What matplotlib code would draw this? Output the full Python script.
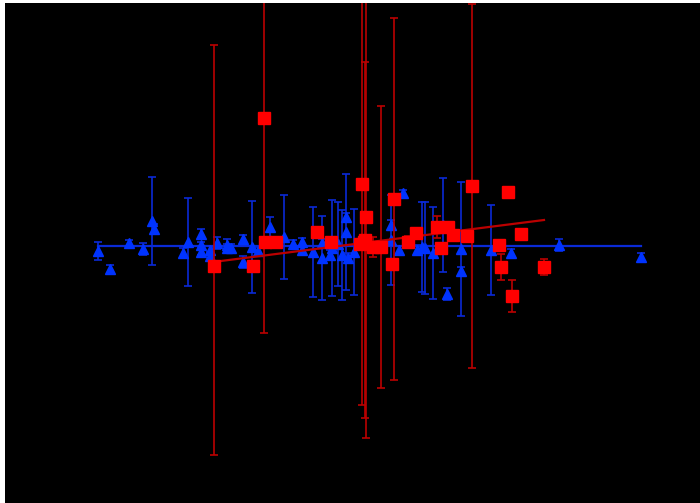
import matplotlib
matplotlib.use("Agg")
import matplotlib.pyplot as plt
import numpy as np

# Blue series (triangles)
blue_x = [1.86, 2.10, 2.48, 2.76, 2.94, 2.98, 3.56, 3.66, 3.92, 3.92, 3.92, 4.10, 4.10,
          4.24, 4.44, 4.44, 4.52, 4.76, 4.76, 4.94, 5.06, 5.30, 5.58, 5.76, 5.94, 5.94,
          6.16, 6.34, 6.34, 6.50, 6.54, 6.66, 6.74, 6.82, 6.82, 6.86, 6.98, 7.72, 7.72, 7.88,
          7.96, 8.24, 8.34, 8.40, 8.56, 8.76, 8.84, 9.12, 9.12, 9.72, 10.12, 11.08, 12.72]
blue_y = [0.04, -0.32, 0.20, 0.08, 0.64, 0.48, 0.00, 0.22, 0.38, 0.16, 0.02, 0.06, -0.06,
          0.20, 0.16, 0.10, 0.10, 0.28, -0.18, 0.12, 0.04, 0.52, 0.32, 0.18, 0.22, 0.06,
          0.02, 0.20, -0.10, -0.04, 0.10, 0.18, -0.04, 0.42, 0.72, -0.10, 0.02, 0.26, 0.56, 0.06,
          1.20, 0.06, 0.12, 0.10, 0.00, 0.56, -0.82, 0.08, -0.36, 0.06, 0.00, 0.16, -0.08]
blue_err = [0.18, 0.08, 0.06, 0.12, 0.88, 0.10, 0.10, 0.88, 0.10, 0.06, 0.06, 0.08, 0.08,
            0.12, 0.12, 0.08, 0.08, 0.08, 0.12, 0.92, 0.08, 0.20, 0.84, 0.08, 0.08, 0.08,
            0.90, 0.08, 0.84, 0.10, 0.96, 0.84, 0.90, 1.16, 0.08, 0.10, 0.86, 0.90, 0.10, 0.08,
            0.06, 0.10, 0.90, 0.92, 0.92, 0.94, 0.12, 1.34, 0.08, 0.90, 0.08, 0.12, 0.08]

# Red series (squares)
red_x = [4.18, 4.96, 5.18, 5.20, 5.42, 6.24, 6.52, 7.10, 7.14, 7.18, 7.22, 7.20, 7.36,
         7.52, 7.74, 7.78, 8.06, 8.22, 8.64, 8.72, 8.86, 8.96, 9.24, 9.34, 9.88, 9.92,
         10.06, 10.14, 10.32, 10.78]
red_y = [-0.26, -0.26, 2.70, 0.22, 0.22, 0.42, 0.22, 0.18, 1.38, 0.22, 0.72, 0.26, 0.12,
         0.12, -0.22, 1.08, 0.22, 0.40, 0.52, 0.10, 0.52, 0.36, 0.34, 1.34, 0.16, -0.28,
         1.22, -0.86, 0.38, -0.28]
red_err_lo = [3.78, 0.0, 4.30, 0.0, 0.0, 0.0, 0.0, 0.0, 4.42, 0.0, 4.42, 3.56, 0.20,
              2.82, 0.0, 3.62, 0.12, 0.0, 0.22, 0.0, 0.0, 0.0, 0.0, 3.64, 0.08, 0.26,
              0.0, 0.32, 0.08, 0.16]
red_err_hi = [4.42, 0.0, 4.30, 0.0, 0.0, 0.0, 0.0, 0.0, 4.42, 0.0, 4.42, 3.56, 0.20,
              2.82, 0.0, 3.62, 0.12, 0.0, 0.22, 0.0, 0.0, 0.0, 0.0, 3.64, 0.08, 0.26,
              0.0, 0.32, 0.08, 0.16]

# Fit lines
blue_fit_x = [1.86, 12.72]
blue_fit_y = [0.14, 0.14]
red_fit_x = [4.16, 10.78]
red_fit_y = [-0.18, 0.66]

fig = plt.figure(figsize=(7.0, 5.03), dpi=100, facecolor="white")
ax = fig.add_axes([5/700, 0, 695/700, 500/503])
ax.set_facecolor("black")

blue_c = "#0033ff"
blue_e = "#0a2ad6"
red_c = "#ff0000"
red_e = "#bb0000"

ax.errorbar(blue_x, blue_y, yerr=blue_err, fmt="^", color=blue_c, ecolor=blue_e,
            markersize=7, elinewidth=1.2, capsize=2.8, capthick=1.2, zorder=2)
ax.plot(blue_fit_x, blue_fit_y, color=blue_e, linewidth=1.6, zorder=2)

ax.errorbar(red_x, red_y, yerr=[red_err_lo, red_err_hi], fmt="s", color=red_c, ecolor=red_e,
            markersize=8.5, elinewidth=1.2, capsize=2.8, capthick=1.2, zorder=3)
ax.plot(red_fit_x, red_fit_y, color=red_e, linewidth=1.6, zorder=3)

ax.set_xlim(0, 13.9)
ax.set_ylim(-5, 5)
ax.set_xticks([])
ax.set_yticks([])
for s in ax.spines.values():
    s.set_visible(False)

fig.savefig("out.png", dpi=100, facecolor="white")
